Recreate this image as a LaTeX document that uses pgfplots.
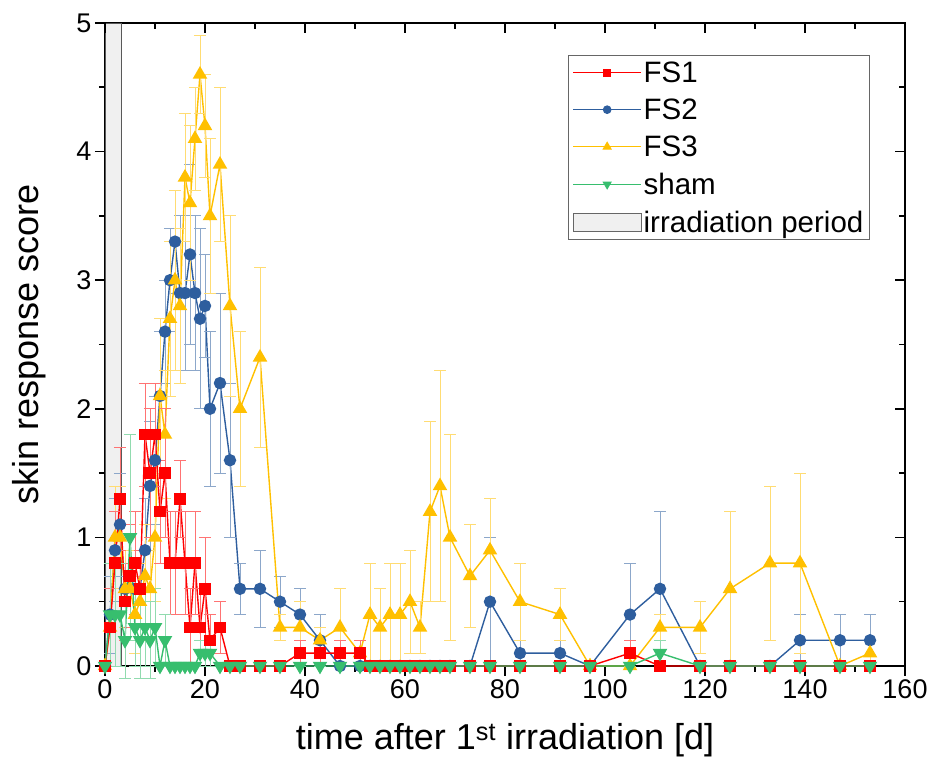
\documentclass[border=0pt]{standalone}
\usepackage{fontspec}
\setmainfont{Liberation Sans}
\usepackage{pgfplots}
\pgfplotsset{compat=1.18}
\usepackage{pgfplotstable}

\definecolor{cFSa}{RGB}{255,0,0}
\definecolor{cFSb}{RGB}{46,94,158}
\definecolor{cFSc}{RGB}{255,192,0}
\definecolor{cSham}{RGB}{55,190,110}

\pgfplotstableread{
x y e
0 0 0
1 0.3 0.3
2 0.8 0.4
3 1.3 0.4
4 0.5 0.3
5 0.7 0.4
6 0.8 0.4
7 0.6 0.3
8 1.8 0.4
9 1.5 0.5
10 1.8 0.4
11 1.2 0.4
12 1.5 0.5
13 0.8 0.4
14 0.8 0.4
15 1.3 0.3
16 0.8 0.4
17 0.3 0.3
18 0.8 0.4
19 0.3 0.3
20 0.6 0.4
21 0.2 0.2
23 0.3 0.2
25 0 0
27 0 0
31 0 0
35 0 0
39 0.1 0.1
43 0.1 0.1
47 0.1 0.1
51 0.1 0.1
53 0 0
55 0 0
57 0 0
59 0 0
61 0 0
63 0 0
65 0 0
67 0 0
69 0 0
73 0 0
77 0 0
83 0 0
91 0 0
97 0 0
105 0.1 0.1
111 0 0
119 0 0
125 0 0
133 0 0
139 0 0
147 0 0
153 0 0
}\tFSa

\pgfplotstableread{
x y e
0 0 0
1 0.4 0.3
2 0.9 0.4
3 1.1 0.4
4 0.6 0.3
5 0.7 0.4
6 0.6 0.3
7 0.6 0.3
8 0.9 0.4
9 1.4 0.5
10 1.6 0.5
11 2.1 0.5
12 2.6 0.4
13 3.0 0.4
14 3.3 0.4
15 2.9 0.6
16 2.9 0.6
17 3.2 0.7
18 2.9 0.6
19 2.7 0.7
20 2.8 0.4
21 2.0 0.6
23 2.2 0.7
25 1.6 0.6
27 0.6 0.2
31 0.6 0.3
35 0.5 0.2
39 0.4 0.2
43 0.2 0.2
47 0 0
51 0 0
53 0 0
55 0 0
57 0 0
59 0 0
61 0 0
63 0 0
65 0 0
67 0 0
69 0 0
73 0 0
77 0.5 0.5
83 0.1 0.1
91 0.1 0.1
97 0 0
105 0.4 0.4
111 0.6 0.6
119 0 0
125 0 0
133 0 0
139 0.2 0.2
147 0.2 0.2
153 0.2 0.2
}\tFSb

\pgfplotstableread{
x y e
0 0 0
1 0.3 0.3
2 1.0 0.4
3 1.0 0.4
4 0.6 0.3
5 0.6 0.3
6 0.4 0.3
7 0.5 0.3
8 0.7 0.4
9 0.6 0.3
10 1.0 0.5
11 2.1 0.6
12 1.8 0.5
13 2.7 0.6
14 3.0 0.7
15 2.8 0.6
16 3.8 0.5
17 3.6 0.6
18 4.1 0.4
19 4.6 0.3
20 4.2 0.4
21 3.5 0.6
23 3.9 0.6
25 2.8 0.7
27 2.0 0.6
31 2.4 0.7
35 0.3 0.1
39 0.3 0.2
43 0.2 0.1
47 0.3 0.3
51 0.1 0.1
53 0.4 0.4
55 0.3 0.3
57 0.4 0.4
59 0.4 0.4
61 0.5 0.4
63 0.3 0.2
65 1.2 0.7
67 1.4 0.9
69 1.0 0.8
73 0.7 0.4
77 0.9 0.4
83 0.5 0.3
91 0.4 0.2
97 0 0
105 0 0
111 0.3 0.1
119 0.3 0.2
125 0.6 0.6
133 0.8 0.6
139 0.8 0.7
147 0 0
153 0.1 0.1
}\tFSc

\pgfplotstableread{
x y e
0 0 0
1 0.4 0.4
2 0.4 0.4
3 0.4 0.4
4 0.2 0.3
5 1.0 0.8
6 0.3 0.3
7 0.2 0.3
8 0.3 0.3
9 0.2 0.3
10 0.3 0.3
11 0 0
12 0.2 0.2
13 0 0
14 0 0
15 0 0
16 0 0
17 0 0
18 0 0
19 0.1 0.1
20 0.1 0.1
21 0.1 0.1
23 0 0
25 0 0
27 0 0
31 0 0
35 0 0
39 0 0
43 0 0
47 0 0
51 0 0
53 0 0
55 0 0
57 0 0
59 0 0
61 0 0
63 0 0
65 0 0
67 0 0
69 0 0
73 0 0
77 0 0
83 0 0
91 0 0
97 0 0
105 0 0
111 0.1 0.1
119 0 0
125 0 0
133 0 0
139 0 0
147 0 0
153 0 0
}\tSham

\pgfplotsset{
  errstyle/.style={
    error bars/.cd, y dir=both, y explicit,
    error bar style={#1!55, line width=0.8pt, solid},
    error mark options={rotate=90, mark size=6pt, #1!55, line width=0.8pt},
  },
}

\begin{document}
\begin{tikzpicture}
\begin{axis}[
  name=main,
  scale only axis, width=800pt, height=643pt,
  xmin=0, xmax=160, ymin=0, ymax=5,
  xtick={0,20,...,160}, ytick={0,1,...,5},
  minor x tick num=1, minor y tick num=1,
  xtick pos=left, ytick pos=left,
  tick align=outside,
  major tick length=10pt, minor tick length=6pt,
  every tick/.style={black, line width=1.6pt},
  axis line style={line width=2pt},
  clip=false,
  /pgf/number format/assume math mode=true,
  tick label style={font=\fontsize{27}{32}\selectfont},
  label style={font=\fontsize{36}{43}\selectfont},
  xlabel={time after 1\textsuperscript{st} irradiation [d]},
  ylabel={skin response score},
  ylabel style={yshift=24pt},
  xlabel style={yshift=-18pt},
  legend style={at={(0.956,0.95)}, anchor=north east, draw=gray!80!black, line width=0.8pt,
    font=\fontsize{29.5}{35}\selectfont, row sep=11pt, inner sep=4pt,
    cells={anchor=west}},
  legend image code/.code={
    \draw[mark repeat=2,mark phase=2,#1] plot coordinates {(0pt,0pt) (34pt,0pt) (68pt,0pt)};
  },
]
% legend entries
\addlegendimage{cFSa, line width=1pt, mark=square*, mark size=3.5pt}
\addlegendentry{FS1}
\addlegendimage{cFSb, line width=1pt, mark=*, mark size=3.8pt}
\addlegendentry{FS2}
\addlegendimage{cFSc, line width=1pt, mark=triangle*, mark size=4.5pt}
\addlegendentry{FS3}
\addlegendimage{cSham, line width=1pt, mark=triangle*, mark options={rotate=180}, mark size=4.5pt}
\addlegendentry{sham}
\addlegendimage{legend image code/.code={\draw[fill=gray!12, draw=gray!80!black, line width=0.8pt] (0pt,-9pt) rectangle (68pt,9pt);}}
\addlegendentry{irradiation period}

% irradiation period band
\addplot[fill=gray!12, draw=gray!70!black, line width=0.8pt, forget plot] coordinates {(0,5) (3.2,5)} \closedcycle;

% FS2
\addplot[cFSb, line width=1.4pt, mark=*, mark size=5.5pt, forget plot, errstyle=cFSb]
  table[x=x, y=y, y error=e] {\tFSb};
% FS3
\addplot[cFSc, line width=1.4pt, mark=triangle*, mark size=7pt, forget plot, errstyle=cFSc]
  table[x=x, y=y, y error=e] {\tFSc};
% FS1
\addplot[cFSa, line width=1.4pt, mark=square*, mark size=5pt, forget plot, errstyle=cFSa]
  table[x=x, y=y, y error=e] {\tFSa};
% sham
\addplot[cSham, line width=1.4pt, mark=triangle*, mark options={rotate=180}, mark size=7pt, forget plot, errstyle=cSham]
  table[x=x, y=y, y error=e] {\tSham};
\end{axis}
\begin{axis}[
  scale only axis, width=800pt, height=643pt,
  xmin=0, xmax=160, ymin=0, ymax=5,
  xtick={0,20,...,160}, ytick={0,1,...,5},
  minor x tick num=1, minor y tick num=1,
  xtick pos=right, ytick pos=right,
  tick align=inside,
  major tick length=10pt, minor tick length=6pt,
  every tick/.style={black, line width=1.6pt},
  axis line style={draw=none},
  xticklabels={}, yticklabels={},
]
\end{axis}
\path ([xshift=-105pt, yshift=-109pt]main.south west) -- ([xshift=30pt, yshift=23pt]main.north east);
\end{tikzpicture}
\end{document}
